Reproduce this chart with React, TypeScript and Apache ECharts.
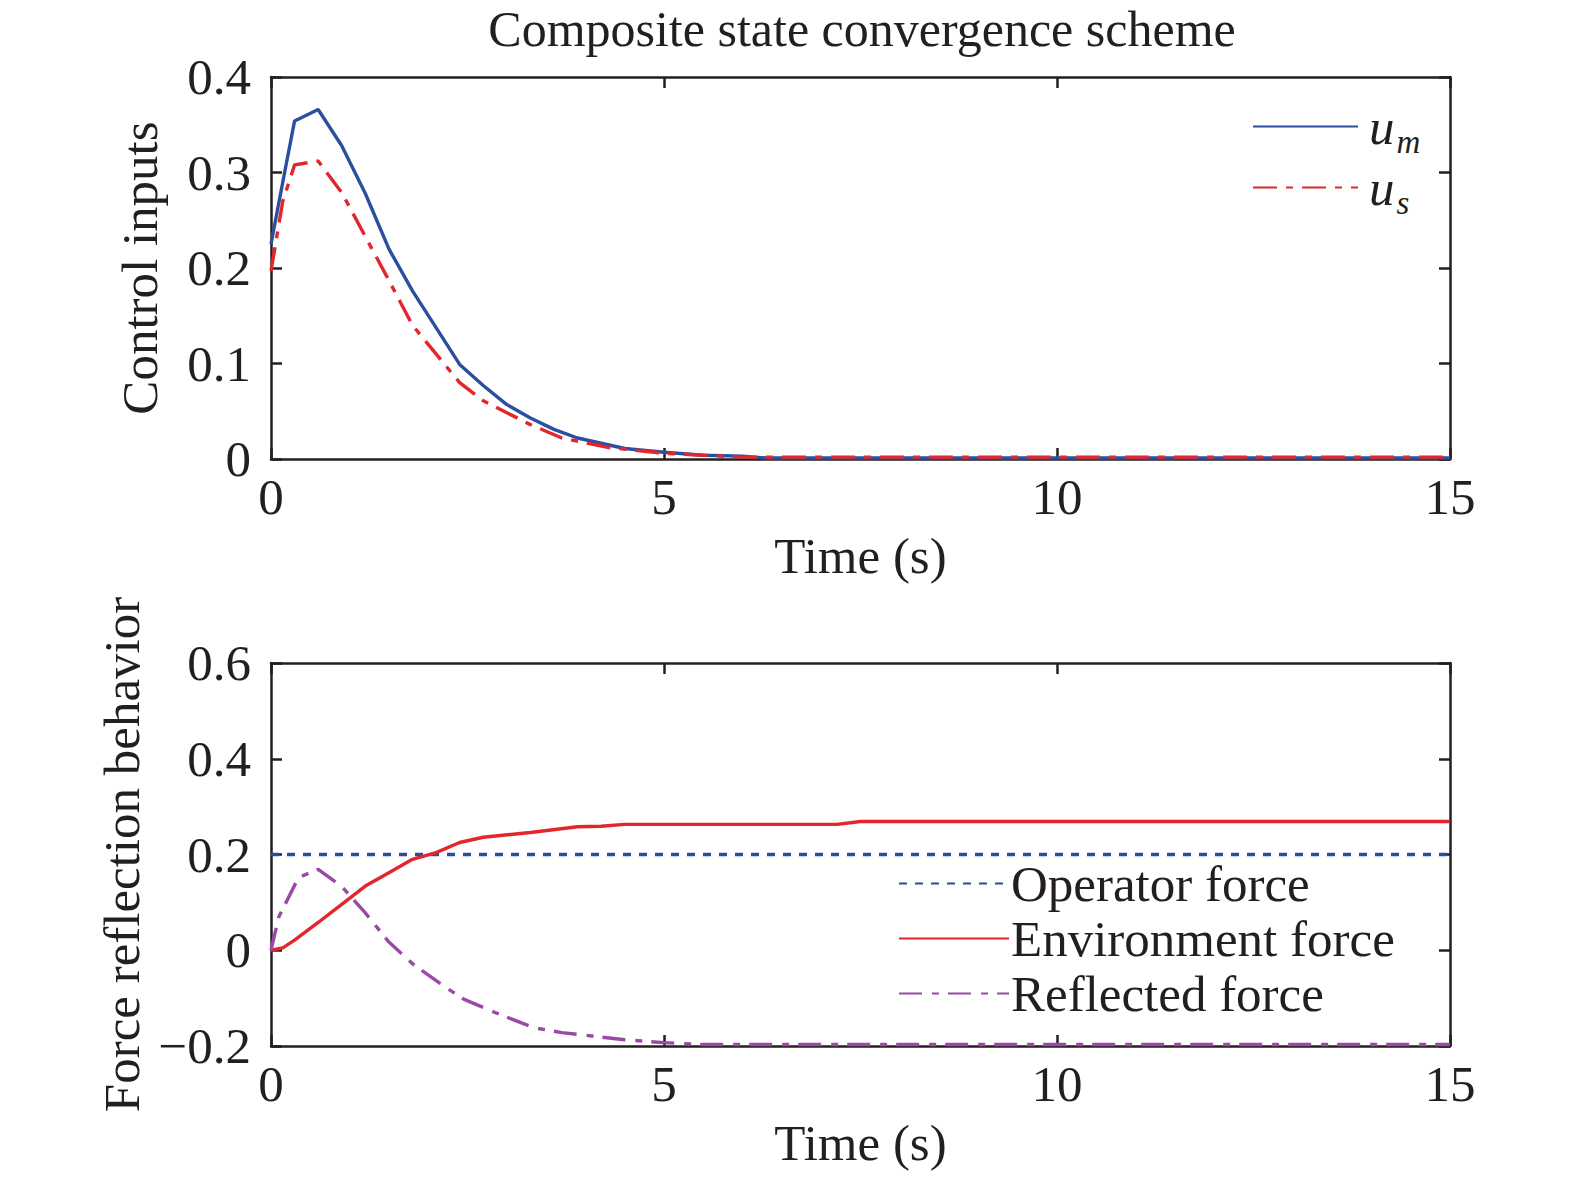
import React, { useEffect, useRef } from "react";
import * as echarts from "echarts";

// ---- Data ----
const umTimes = [0, 0.15, 0.3, 0.6, 0.9, 1.2, 1.5, 1.8, 2.4, 2.7, 3.0, 3.3, 3.6, 3.9, 4.5, 5.0, 5.5, 6.0, 6.3, 7.5, 9, 10.5, 12, 13.5, 15];
const umValues = [0.225, 0.29, 0.354, 0.366, 0.328, 0.278, 0.22, 0.176, 0.099, 0.077, 0.057, 0.043, 0.031, 0.022, 0.011, 0.007, 0.004, 0.003, 0.001, 0.001, 0.001, 0.001, 0.001, 0.001, 0.001];

const usTimes = [0, 0.15, 0.3, 0.6, 0.9, 1.2, 1.5, 1.8, 2.4, 2.7, 3.3, 3.7, 4.3, 5.0, 5.5, 6.0, 6.5, 7.5, 9, 10.5, 12, 13.5, 15];
const usValues = [0.197, 0.27, 0.308, 0.312, 0.279, 0.233, 0.187, 0.14, 0.08, 0.061, 0.036, 0.022, 0.012, 0.006, 0.004, 0.002, 0.002, 0.002, 0.002, 0.002, 0.002, 0.002, 0.002];

const operatorTimes = [0, 15];
const operatorValues = [0.2, 0.2];

const envTimes = [0, 0.15, 0.3, 0.6, 0.9, 1.2, 1.5, 1.8, 2.1, 2.4, 2.7, 3.3, 3.9, 4.2, 4.5, 7.2, 7.5, 15];
const envValues = [0, 0.005, 0.021, 0.058, 0.096, 0.134, 0.162, 0.19, 0.204, 0.225, 0.236, 0.246, 0.258, 0.259, 0.263, 0.263, 0.269, 0.269];

const reflTimes = [0, 0.1, 0.35, 0.6, 0.9, 1.2, 1.5, 1.8, 2.2, 2.45, 2.85, 3.35, 3.7, 4.5, 5.0, 5.5, 15];
const reflValues = [0, 0.07, 0.152, 0.169, 0.133, 0.078, 0.017, -0.028, -0.075, -0.102, -0.13, -0.162, -0.172, -0.187, -0.193, -0.197, -0.197];

const xTicksMax = 15;
const topYRange = [0, 0.4];
const bottomYRange = [-0.2, 0.6];

const title = "Composite state convergence scheme";
const xName = "Time (s)";
const topYName = "Control inputs";
const bottomYName = "Force reflection behavior";
const bottomLegend = ["Operator force", "Environment force", "Reflected force"];

const pairs = (t: number[], v: number[]) => t.map((x, i) => [x, v[i]]);

const FONT = '"Liberation Serif", "Times New Roman", serif';
const TXT = "#231F20";
const BLUE = "#2C4EA0";
const RED = "#E2262B";
const PURPLE = "#9A4AA6";
const OPBLUE = "#2F4B9B";

const fmtY = (v: number) => {
  if (Math.abs(v) < 1e-9) return "0";
  return String(+v.toFixed(1)).replace("-", "\u2212");
};

function axisCommon() {
  return {
    axisLine: { show: true, onZero: false, lineStyle: { color: TXT, width: 2.5 } },
    axisTick: { show: true, inside: true, length: 11, lineStyle: { color: TXT, width: 2.5 } },
    splitLine: { show: false },
  };
}

export default function App() {
  const ref = useRef<HTMLDivElement>(null);
  useEffect(() => {
    if (!ref.current) return;
    const chart = echarts.init(ref.current, undefined, { renderer: "svg" });
    const labelStyle = { fontFamily: FONT, fontSize: 51, color: TXT };
    const grids = [
      { left: 271, top: 77, width: 1179, height: 382 },
      { left: 271, top: 663, width: 1179, height: 383 },
    ];
    const xAxes: any[] = [];
    const yAxes: any[] = [];
    [0, 1].forEach((g) => {
      xAxes.push({
        type: "value",
        gridIndex: g,
        position: "bottom",
        min: 0,
        max: xTicksMax,
        interval: 5,
        ...axisCommon(),
        axisLabel: { ...labelStyle, margin: 12 },
        name: xName,
        nameLocation: "middle",
        nameGap: 71,
        nameTextStyle: { ...labelStyle },
      });
      xAxes.push({
        type: "value",
        gridIndex: g,
        position: "top",
        min: 0,
        max: xTicksMax,
        interval: 5,
        ...axisCommon(),
        axisLabel: { show: false },
      });
      const yr = g === 0 ? topYRange : bottomYRange;
      const iv = g === 0 ? 0.1 : 0.2;
      yAxes.push({
        type: "value",
        gridIndex: g,
        position: "left",
        min: yr[0],
        max: yr[1],
        interval: iv,
        ...axisCommon(),
        axisLabel: { ...labelStyle, margin: 20, formatter: fmtY },
        name: g === 0 ? topYName : bottomYName,
        nameLocation: "middle",
        nameGap: g === 0 ? 106 : 124,
        nameTextStyle: { ...labelStyle },
      });
      yAxes.push({
        type: "value",
        gridIndex: g,
        position: "right",
        min: yr[0],
        max: yr[1],
        interval: iv,
        ...axisCommon(),
        axisLabel: { show: false },
      });
    });

    const lineSeries = (name: string, data: number[][], color: string, type: any, g: number, z = 2) => ({
      type: "line",
      name,
      data,
      xAxisIndex: g * 2,
      yAxisIndex: g * 2,
      symbol: "none",
      showSymbol: false,
      z,
      lineStyle: { color, width: 3.4, type },
      itemStyle: { color },
    });

    const option: any = {
      animation: false,
      backgroundColor: "#ffffff",
      title: {
        text: title,
        left: 862,
        top: 4,
        padding: 0,
        textAlign: "center",
        textStyle: { fontFamily: FONT, fontSize: 50, fontWeight: "normal", color: TXT },
      },
      grid: grids,
      xAxis: xAxes,
      yAxis: yAxes,
      legend: [
        {
          orient: "vertical",
          left: 1247,
          top: 90,
          itemWidth: 105,
          itemHeight: 14,
          itemGap: -2,
          itemStyle: { opacity: 0 },
          data: ["um", "us"],
          formatter: (n: string) => (n === "um" ? "{u|u}{s|m}" : "{u|u}{s|s}"),
          textStyle: {
            fontFamily: FONT,
            color: TXT,
            rich: {
              u: { fontFamily: FONT, fontStyle: "italic", fontSize: 51, lineHeight: 56, color: TXT, padding: [0, 2, 0, 6] },
              s: { fontFamily: FONT, fontStyle: "italic", fontSize: 33, lineHeight: 56, color: TXT, padding: [30, 0, 0, 0] },
            },
          },
        },
        {
          orient: "vertical",
          left: 893,
          top: 853,
          itemWidth: 110,
          itemHeight: 14,
          itemGap: 4,
          itemStyle: { opacity: 0 },
          data: bottomLegend,
          textStyle: { fontFamily: FONT, fontSize: 51, color: TXT, lineHeight: 51, padding: [0, 0, 0, -3] },
        },
      ],
      series: [
        lineSeries("um", pairs(umTimes, umValues), BLUE, "solid", 0, 2),
        lineSeries("us", pairs(usTimes, usValues), RED, [24, 9, 7, 9], 0, 3),
        lineSeries(bottomLegend[0], pairs(operatorTimes, operatorValues), OPBLUE, [8, 8], 1, 2),
        lineSeries(bottomLegend[1], pairs(envTimes, envValues), RED, "solid", 1, 3),
        lineSeries(bottomLegend[2], pairs(reflTimes, reflValues), PURPLE, [23, 10, 7, 9], 1, 4),
      ],
    };
    chart.setOption(option);
    return () => chart.dispose();
  }, []);
  return (
    <div
      ref={ref}
      style={{ position: "fixed", left: 0, top: 0, width: 1575, height: 1179, background: "#fff" }}
    />
  );
}
